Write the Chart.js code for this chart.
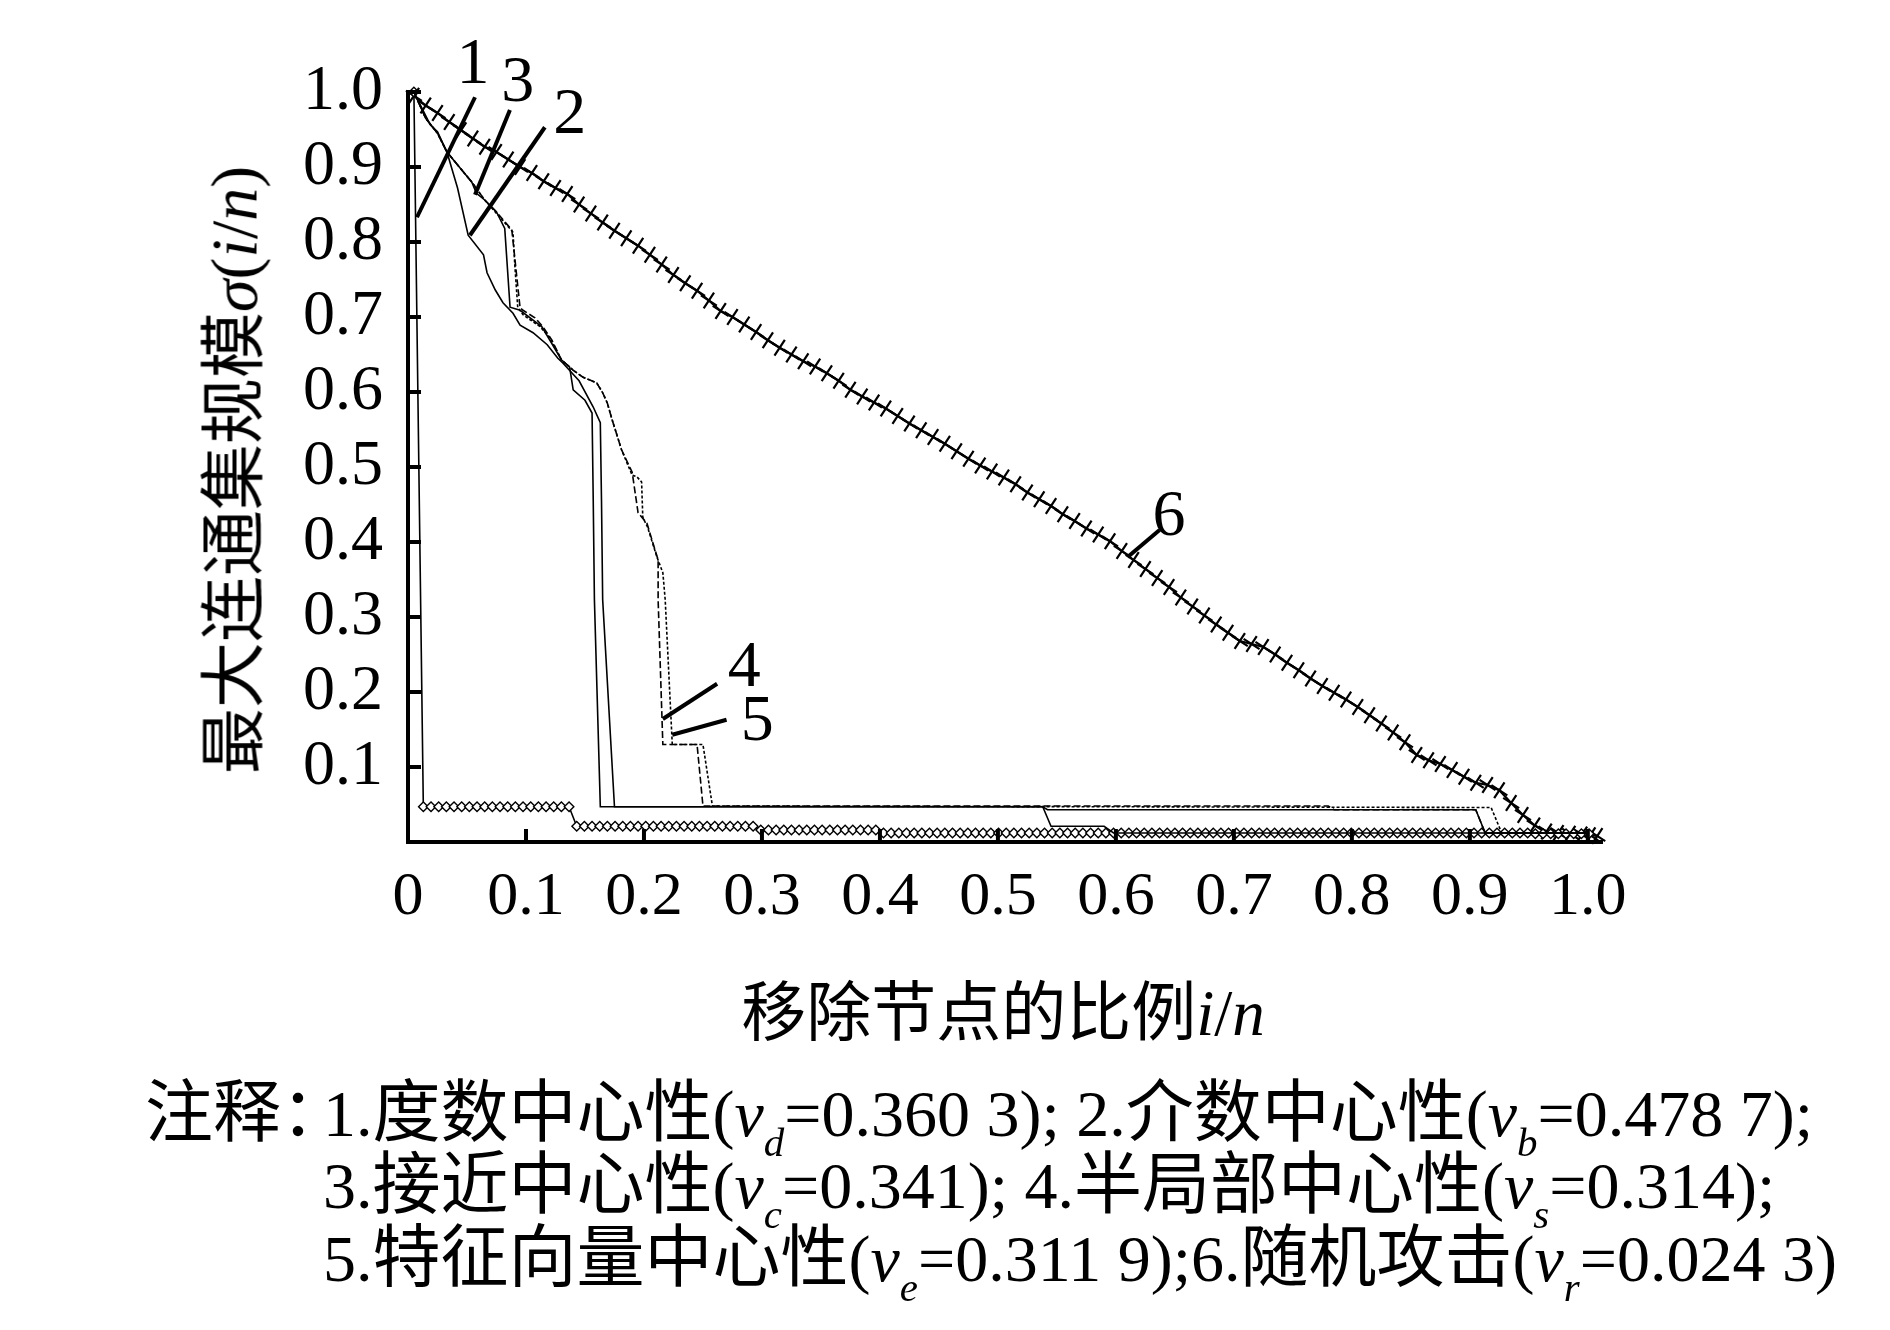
<!DOCTYPE html>
<html>
<head>
<meta charset="utf-8">
<script src="https://cdn.jsdelivr.net/npm/chart.js@4.4.1/dist/chart.umd.min.js"></script>
<style>
  html,body{margin:0;padding:0;background:#fff;}
  #wrap{position:relative;width:1890px;height:1330px;overflow:hidden;background:#fff;}
  #c{position:absolute;left:0;top:0;}
  .t{position:absolute;white-space:nowrap;color:#000;font-family:"Liberation Serif","Noto Sans CJK SC",serif;line-height:1;}
  .c{font-family:"Noto Sans CJK SC",sans-serif;}
  i{font-style:italic;}
  .sub{font-size:0.62em;vertical-align:-0.5em;font-style:italic;}
  #ytitle{left:231px;top:470px;font-size:66px;transform:translate(-50%,-50%) rotate(-90deg);}
  #xtitle{left:1003px;top:1010px;font-size:65px;transform:translate(-50%,-50%);}
  .note{font-size:66px;line-height:72px;}
  .note .c{font-size:68px;}
  .lead{display:inline-block;width:178px;overflow:visible;}
</style>
</head>
<body>
<div id="wrap">
  <canvas id="c" width="1890" height="1330"></canvas>
  <div class="t" id="ytitle"><span class="c">最大连通集规模</span><i>σ</i>(<i>i</i>/<i>n</i>)</div>
  <div class="t" id="xtitle"><span class="c">移除节点的比例</span><i>i</i>/<i>n</i></div>
  <div class="t note" style="left:145px;top:1071px;"><span class="c lead">注释：</span>1.<span class="c">度数中心性</span>(<i>v</i><span class="sub">d</span>=0.360 3); 2.<span class="c">介数中心性</span>(<i>v</i><span class="sub">b</span>=0.478 7);</div>
  <div class="t note" style="left:323px;top:1143px;">3.<span class="c">接近中心性</span>(<i>v</i><span class="sub">c</span>=0.341); 4.<span class="c">半局部中心性</span>(<i>v</i><span class="sub">s</span>=0.314);</div>
  <div class="t note" style="left:323px;top:1216px;">5.<span class="c">特征向量中心性</span>(<i>v</i><span class="sub">e</span>=0.311 9);6.<span class="c">随机攻击</span>(<i>v</i><span class="sub">r</span>=0.024 3)</div>
</div>
<script>
// ---------- axis ticks ----------
const xTickVals = [0,0.1,0.2,0.3,0.4,0.5,0.6,0.7,0.8,0.9,1.0];
const xTickLabels = ['0','0.1','0.2','0.3','0.4','0.5','0.6','0.7','0.8','0.9','1.0'];
const yTickVals = [0.1,0.2,0.3,0.4,0.5,0.6,0.7,0.8,0.9,1.0];
const yTickLabels = ['0.1','0.2','0.3','0.4','0.5','0.6','0.7','0.8','0.9','1.0'];

// ---------- series 1: degree centrality (diamonds) ----------
const s1x = [0.005,0.013,0.0195,0.026,0.0325,0.039,0.0455,0.052,0.0585,0.065,0.0715,0.078,0.0845,0.091,0.0975,0.104,0.1105,0.117,0.1235,0.13,0.1365,
0.143,0.1495,0.156,0.1625,0.169,0.1755,0.182,0.1885,0.195,0.2015,
0.208,0.2145,0.221,0.2275,0.234,0.2405,0.247,0.2535,0.26,0.2665,
0.273,0.2795,0.286,0.2925,
0.299,0.3055,0.312,0.3185,0.325,0.3315,0.338,0.3445,0.351,0.3575,0.364,0.3705,0.377,0.3835,0.39,0.3965,
0.403,0.4095,0.416,0.4225,0.429,0.4355,0.442,0.4485,0.455,0.4615,
0.468,0.4745,0.481,0.4875,0.494,0.5005,0.507,0.5135,0.52,0.5265,
0.533,0.5395,0.546,0.5525,0.559,0.5655,0.572,0.5785,0.585,0.5915,
0.598,0.6045,0.611,0.6175,0.624,0.6305,0.637,0.6435,0.65,0.6565,
0.663,0.6695,0.676,0.6825,0.689,0.6955,0.702,0.7085,0.715,0.7215,
0.728,0.7345,0.741,0.7475,0.754,0.7605,0.767,0.7735,0.78,0.7865,
0.793,0.7995,0.806,0.8125,0.819,0.8255,0.832,0.8385,0.845,0.8515,
0.858,0.8645,0.871,0.8775,0.884,0.8905,0.897,0.9035,0.91,0.9165,
0.923,0.9295,0.936,0.9425,0.949,0.9555,0.962,0.9685,0.975,0.9815,
0.988,0.9945,1.001];
const s1y = [1.0,0.047,0.047,0.047,0.047,0.047,0.047,0.047,0.047,0.047,0.047,0.047,0.047,0.047,0.047,0.047,0.047,0.047,0.047,0.047,0.047,
0.021,0.021,0.021,0.021,0.021,0.021,0.021,0.021,0.021,0.021,
0.021,0.021,0.021,0.021,0.021,0.021,0.021,0.021,0.021,0.021,
0.021,0.021,0.021,0.021,
0.016,0.016,0.016,0.016,0.016,0.016,0.016,0.016,0.016,0.016,0.016,0.016,0.016,0.016,0.016,0.016,
0.012,0.012,0.012,0.012,0.012,0.012,0.012,0.012,0.012,0.012,
0.012,0.012,0.012,0.012,0.012,0.012,0.012,0.012,0.012,0.012,
0.012,0.012,0.012,0.012,0.012,0.012,0.012,0.012,0.012,0.012,
0.012,0.012,0.012,0.012,0.012,0.012,0.012,0.012,0.012,0.012,
0.012,0.012,0.012,0.012,0.012,0.012,0.012,0.012,0.012,0.012,
0.012,0.012,0.012,0.012,0.012,0.012,0.012,0.012,0.012,0.012,
0.012,0.012,0.012,0.012,0.012,0.012,0.012,0.012,0.012,0.012,
0.012,0.012,0.012,0.012,0.012,0.012,0.012,0.012,0.012,0.012,
0.012,0.012,0.012,0.012,0.012,0.011,0.011,0.011,0.011,0.011,
0.011,0.011,0.011];

// ---------- series 2: betweenness ----------
const s2x = [0.005,0.019,0.025,0.033,0.042,0.051,0.064,0.067,0.074,0.0805,0.089,0.095,0.106,0.118,0.127,0.131,0.145,0.157,0.163,0.164,0.165,0.175,0.538,0.545,0.59,0.598,1.0];
const s2y = [1.0,0.956,0.947,0.92,0.872,0.809,0.783,0.759,0.736,0.719,0.705,0.689,0.679,0.663,0.645,0.639,0.615,0.58,0.559,0.456,0.323,0.047,0.047,0.021,0.021,0.012,0.012];

// ---------- series 3: closeness ----------
const s3x = [0.005,0.015,0.025,0.033,0.044,0.054,0.058,0.065,0.075,0.082,0.0865,0.095,0.1135,0.13,0.137,0.14,0.15,0.156,0.157,0.158,0.163,0.538,0.542,0.905,0.913,1.0];
const s3y = [1.0,0.965,0.945,0.92,0.899,0.88,0.865,0.856,0.84,0.818,0.713,0.709,0.687,0.643,0.633,0.603,0.589,0.572,0.456,0.323,0.047,0.047,0.043,0.043,0.012,0.012];

// ---------- series 4: semi-local ----------
const s4x = [0.005,0.015,0.025,0.033,0.044,0.054,0.065,0.075,0.088,0.095,0.0975,0.1076,0.1144,0.122,0.13,0.14,0.148,0.16,0.165,0.169,0.173,0.181,0.19,0.195,0.2025,0.212,0.212,0.216,0.245,0.25,0.78,0.785,0.905,0.913,1.0];
const s4y = [1.0,0.965,0.945,0.92,0.899,0.88,0.856,0.84,0.816,0.712,0.709,0.699,0.687,0.669,0.643,0.629,0.62,0.612,0.599,0.585,0.563,0.523,0.493,0.439,0.425,0.376,0.323,0.13,0.13,0.048,0.048,0.043,0.043,0.012,0.012];

// ---------- series 5: eigenvector ----------
const s5x = [0.005,0.015,0.025,0.033,0.044,0.054,0.065,0.075,0.089,0.0905,0.093,0.0975,0.112,0.12,0.13,0.14,0.148,0.16,0.165,0.169,0.173,0.181,0.19,0.194,0.198,0.199,0.203,0.211,0.216,0.218,0.224,0.25,0.258,0.918,0.927,1.0];
const s5y = [1.0,0.965,0.945,0.92,0.899,0.88,0.856,0.838,0.813,0.77,0.713,0.703,0.687,0.673,0.643,0.629,0.62,0.612,0.599,0.585,0.563,0.523,0.489,0.487,0.48,0.433,0.42,0.38,0.359,0.323,0.13,0.13,0.048,0.046,0.012,0.012];

// ---------- series 6: random attack (crosses) ----------
const s6x = [0.005,0.015,0.025,0.035,0.045,0.055,0.065,0.075,0.085,0.095,
0.105,0.115,0.125,0.135,0.145,0.155,0.165,0.175,0.185,0.195,
0.205,0.215,0.225,0.235,0.245,0.255,0.265,0.275,0.285,0.295,
0.305,0.315,0.325,0.335,0.345,0.355,0.365,0.375,0.385,0.395,
0.405,0.415,0.425,0.435,0.445,0.455,0.465,0.475,0.485,0.495,
0.505,0.515,0.525,0.535,0.545,0.555,0.565,0.575,0.585,0.595,
0.605,0.615,0.625,0.635,0.645,0.655,0.665,0.675,0.685,0.695,
0.705,0.715,0.725,0.735,0.745,0.755,0.765,0.775,0.785,0.795,
0.805,0.815,0.825,0.835,0.845,0.855,0.865,0.875,0.885,0.895,
0.905,0.915,0.925,0.935,0.945,0.955,0.965,0.975,0.985,0.995,1.002,1.008];
const s6y = [0.995,0.982,0.972,0.960,0.949,0.938,0.927,0.920,0.910,0.900,
0.892,0.881,0.872,0.864,0.850,0.838,0.826,0.815,0.805,0.795,
0.783,0.770,0.756,0.745,0.735,0.722,0.708,0.700,0.690,0.680,
0.669,0.659,0.650,0.641,0.634,0.625,0.615,0.603,0.594,0.586,
0.578,0.568,0.558,0.549,0.540,0.531,0.521,0.511,0.502,0.494,
0.486,0.477,0.466,0.457,0.448,0.437,0.428,0.418,0.410,0.401,
0.388,0.376,0.364,0.352,0.340,0.326,0.314,0.302,0.290,0.279,
0.268,0.264,0.260,0.250,0.239,0.229,0.218,0.208,0.199,0.190,
0.180,0.169,0.158,0.146,0.133,0.116,0.109,0.104,0.096,0.087,
0.079,0.076,0.069,0.052,0.036,0.022,0.014,0.012,0.011,0.010,0.009,0.008];

// ---------- curve labels (text at labelPos, leader from leaderFrom to leaderTo) ----------
const curveLabels = ['1','3','2','4','5','6'];
const labelPos = [[0.055,1.035],[0.093,1.011],[0.137,0.969],[0.285,0.231],[0.296,0.159],[0.645,0.432]];
const leaderFrom = [[0.0076,0.833],[0.0568,0.863],[0.0525,0.809],[0.216,0.164],[0.224,0.143],[0.61,0.38]];
const leaderTo = [[0.0568,0.993],[0.0864,0.976],[0.116,0.953],[0.262,0.211],[0.27,0.163],[0.637,0.416]];

const zip = (xs, ys) => xs.map((x, i) => ({x: x, y: ys[i]}));

const baseLine = {borderColor:'#000', backgroundColor:'#000', borderWidth:1.6, pointRadius:0, tension:0, clip:false, fill:false};

const datasets = [
  Object.assign({}, baseLine, {label:'2', data: zip(s2x, s2y)}),
  Object.assign({}, baseLine, {label:'3', data: zip(s3x, s3y)}),
  Object.assign({}, baseLine, {label:'4', data: zip(s4x, s4y), borderDash:[7,3]}),
  Object.assign({}, baseLine, {label:'5', data: zip(s5x, s5y), borderDash:[3,2]}),
  Object.assign({}, baseLine, {label:'1', data: zip(s1x, s1y), pointRadius:4.8, pointStyle:'rectRot', pointBackgroundColor:'#fff', pointBorderColor:'#000', pointBorderWidth:1.4, borderWidth:1.6}),
  Object.assign({}, baseLine, {label:'6', data: zip(s6x, s6y), borderWidth:2.2, pointRadius:9.5, pointStyle:'cross', pointRotation:33, pointBorderColor:'#000', pointBorderWidth:2.2})
];

const decorPlugin = {
  id:'decor',
  afterDraw(chart){
    const ctx = chart.ctx, xs = chart.scales.x, ys = chart.scales.y, a = chart.chartArea;
    ctx.save();
    ctx.strokeStyle = '#000';
    ctx.lineWidth = 4;
    xTickVals.forEach(v => {
      if (v === 0) return;
      const px = xs.getPixelForValue(v);
      ctx.beginPath(); ctx.moveTo(px, a.bottom); ctx.lineTo(px, a.bottom - 13); ctx.stroke();
    });
    yTickVals.forEach(v => {
      const py = ys.getPixelForValue(v);
      ctx.beginPath(); ctx.moveTo(a.left, py); ctx.lineTo(a.left + 13, py); ctx.stroke();
    });
    ctx.lineWidth = 4;
    curveLabels.forEach((t, i) => {
      ctx.beginPath();
      ctx.moveTo(xs.getPixelForValue(leaderFrom[i][0]), ys.getPixelForValue(leaderFrom[i][1]));
      ctx.lineTo(xs.getPixelForValue(leaderTo[i][0]), ys.getPixelForValue(leaderTo[i][1]));
      ctx.stroke();
    });
    ctx.fillStyle = '#000';
    ctx.font = '66px "Liberation Serif"';
    ctx.textAlign = 'center';
    ctx.textBaseline = 'middle';
    curveLabels.forEach((t, i) => {
      ctx.fillText(t, xs.getPixelForValue(labelPos[i][0]), ys.getPixelForValue(labelPos[i][1]));
    });
    ctx.restore();
  }
};

new Chart(document.getElementById('c'), {
  type:'line',
  data:{datasets: datasets},
  options:{
    responsive:false,
    animation:false,
    devicePixelRatio:1,
    layout:{padding:{left:0, top:92, right:288, bottom:0}},
    plugins:{legend:{display:false}, tooltip:{enabled:false}, title:{display:false}},
    scales:{
      x:{
        type:'linear', min:0, max:1.012,
        afterBuildTicks: s => { s.ticks = xTickVals.map(v => ({value:v})); },
        afterFit: s => { s.height = 488; },
        grid:{display:false, drawTicks:false},
        border:{display:true, color:'#000', width:4},
        ticks:{color:'#000', padding:19, maxRotation:0, autoSkip:false,
          font:{family:'"Liberation Serif"', size:62},
          callback:(v, i) => xTickLabels[i]}
      },
      y:{
        type:'linear', min:0, max:1.0,
        afterBuildTicks: s => { s.ticks = yTickVals.map(v => ({value:v})); },
        afterFit: s => { s.width = 408; },
        grid:{display:false, drawTicks:false},
        border:{display:true, color:'#000', width:4},
        ticks:{color:'#000', padding:25, autoSkip:false,
          font:{family:'"Liberation Serif"', size:64},
          callback:(v, i) => yTickLabels[i]}
      }
    }
  },
  plugins:[decorPlugin]
});
</script>
</body>
</html>
